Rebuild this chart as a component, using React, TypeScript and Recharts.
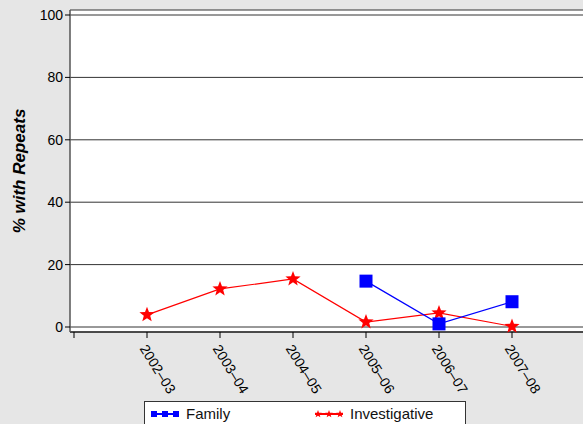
import { LineChart, Line, XAxis, YAxis, CartesianGrid, Legend } from 'recharts';

const categories = ['2002–03', '2003–04', '2004–05', '2005–06', '2006–07', '2007–08'];
const family = [null, null, null, 14.7, 1.0, 8.1];
const investigative = [3.9, 12.2, 15.4, 1.6, 4.5, 0.2];
const yTicks = [0, 20, 40, 60, 80, 100];

const data = categories.map((label, i) => ({
  pos: i + 1,
  label,
  family: family[i],
  investigative: investigative[i],
}));

const xTicks = Array.from({ length: categories.length + 2 }, (_, i) => i);

const FONT = '"Liberation Sans", Arial, sans-serif';

const starPoints = (cx: number, cy: number, r: number) => {
  const pts: string[] = [];
  for (let i = 0; i < 10; i++) {
    const rad = i % 2 === 0 ? r : r * 0.42;
    const a = -Math.PI / 2 + (i * Math.PI) / 5;
    pts.push(`${cx + rad * Math.cos(a)},${cy + rad * Math.sin(a)}`);
  }
  return pts.join(' ');
};

const SquareDot = (props: any) => {
  const { cx, cy, value } = props;
  if (value == null || cx == null || cy == null) return null;
  return <rect key={`sq-${cx}`} x={cx - 6.5} y={cy - 6.5} width={13} height={13} fill="#0000ff" />;
};

const StarDot = (props: any) => {
  const { cx, cy, value } = props;
  if (value == null || cx == null || cy == null) return null;
  return <polygon key={`st-${cx}`} points={starPoints(cx, cy, 8)} fill="#ff0000" />;
};

const XTick = (props: any) => {
  const { x, y, payload } = props;
  const label = categories[payload.value - 1];
  if (!label) return null;
  return (
    <text
      transform={`translate(${x + 1},${y + 3}) rotate(58)`}
      textAnchor="start"
      dominantBaseline="hanging"
      fontSize={14}
      fontFamily={FONT}
      fill="#000"
    >
      {label}
    </text>
  );
};

const YLabel = (props: any) => {
  const { viewBox } = props;
  const cy = viewBox.y + viewBox.height / 2;
  return (
    <text
      transform={`translate(19,${cy}) rotate(-90)`}
      textAnchor="middle"
      dominantBaseline="central"
      fontSize={17}
      fontWeight="bold"
      fontStyle="italic"
      fontFamily={FONT}
      fill="#000"
    >
      % with Repeats
    </text>
  );
};

const LegendIcon = ({ color, star }: { color: string; star: boolean }) => (
  <svg width={28} height={10} style={{ marginRight: 7 }}>
    <line x1={0} y1={5} x2={28} y2={5} stroke={color} strokeWidth={2} />
    {[3, 14, 25].map((cx) =>
      star ? (
        <polygon key={cx} points={starPoints(cx, 5, 4)} fill={color} />
      ) : (
        <rect key={cx} x={cx - 3} y={2} width={6} height={6} fill={color} />
      )
    )}
  </svg>
);

const LegendBox = () => (
  <div
    style={{
      position: 'absolute',
      left: 144,
      top: 401,
      width: 320,
      height: 30,
      background: '#fff',
      border: '1px solid #333',
      fontFamily: FONT,
      fontSize: 15,
      color: '#111',
    }}
  >
    <div style={{ position: 'absolute', left: 6, top: 3, display: 'flex', alignItems: 'center' }}>
      <LegendIcon color="#0000ff" star={false} />
      <span>Family</span>
    </div>
    <div style={{ position: 'absolute', left: 170, top: 3, display: 'flex', alignItems: 'center' }}>
      <LegendIcon color="#ff0000" star={true} />
      <span>Investigative</span>
    </div>
  </div>
);

export default function App() {
  return (
    <div
      style={{
        position: 'absolute',
        left: 0,
        top: 0,
        width: 583,
        height: 424,
        overflow: 'hidden',
        background: '#e6e6e6',
      }}
    >
      <LineChart width={585} height={424} data={data} margin={{ top: 10, right: 0, bottom: 0, left: 0 }}>
        <CartesianGrid vertical={false} fill="#fff" stroke="#333" strokeOpacity={1} />
        <XAxis
          xAxisId="top"
          orientation="top"
          type="number"
          domain={[0, categories.length + 1]}
          tick={false}
          tickLine={false}
          height={0}
          axisLine={{ stroke: '#000', strokeWidth: 1.5 }}
        />
        <XAxis
          dataKey="pos"
          type="number"
          domain={[0, categories.length + 1]}
          ticks={xTicks}
          interval={0}
          padding={{ left: 4, right: 0 }}
          height={92}
          tickSize={6}
          tickLine={{ stroke: '#000' }}
          axisLine={{ stroke: '#333', strokeWidth: 1.5 }}
          tick={<XTick />}
        />
        <YAxis
          domain={[0, 100]}
          ticks={yTicks}
          width={70}
          padding={{ top: 5, bottom: 5 }}
          tickSize={5}
          tickLine={{ stroke: '#000' }}
          axisLine={{ stroke: '#555', strokeWidth: 1.5 }}
          tick={{ fontSize: 14, fontFamily: FONT, fill: '#000' }}
          label={<YLabel />}
        />
        <Legend content={() => <LegendBox />} wrapperStyle={{ left: 0, top: 0, width: 0, height: 0 }} />
        <Line
          dataKey="investigative"
          stroke="#ff0000"
          strokeWidth={1.2}
          dot={<StarDot />}
          activeDot={false}
          isAnimationActive={false}
        />
        <Line
          dataKey="family"
          stroke="#0000ff"
          strokeWidth={1.2}
          dot={<SquareDot />}
          activeDot={false}
          isAnimationActive={false}
        />
      </LineChart>
    </div>
  );
}
